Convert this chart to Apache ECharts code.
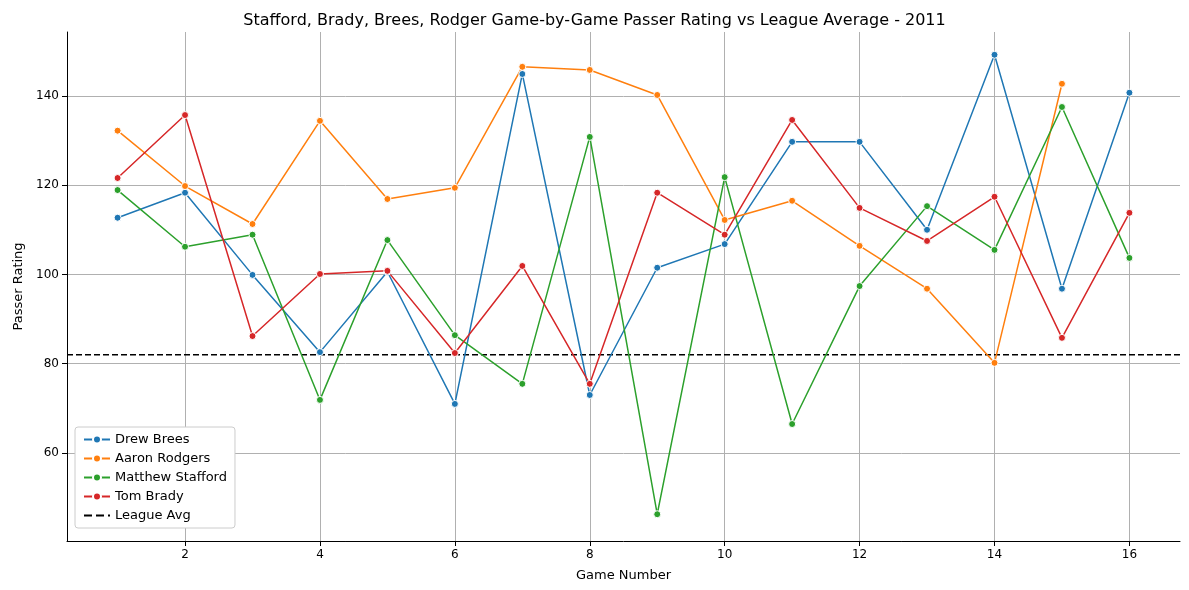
<!DOCTYPE html>
<html><head><meta charset="utf-8">
<script src="https://cdn.jsdelivr.net/npm/echarts@6/dist/echarts.min.js"></script>
<style>html,body{margin:0;background:#fff}#c{width:1189px;height:590px}</style>
</head><body><div id="c"></div>
<script>
var games = [1,2,3,4,5,6,7,8,9,10,11,12,13,14,15,16];
var brees = [112.7,118.3,99.9,82.6,100.6,71,144.9,73,101.5,106.8,129.7,129.7,110,149.2,96.8,140.7];
var rodgers = [132.2,119.8,111.3,134.4,116.9,119.4,146.5,145.8,140.2,112.2,116.5,106.4,96.8,80.2,142.7];
var stafford = [118.9,106.2,108.9,71.9,107.7,86.4,75.5,130.8,46.3,121.8,66.5,97.4,115.3,105.5,137.5,103.7];
var brady = [121.6,135.7,86.2,100.1,100.8,82.4,101.9,75.5,118.3,108.9,134.6,114.9,107.5,117.4,85.8,113.8];
var leagueAvg = 82;
var xTicks = [2,4,6,8,10,12,14,16];
var yTicks = [60,80,100,120,140];

function pairs(vals){ return vals.map(function(v,i){ return [games[i], v]; }); }
function player(name, vals, color){
  return {name:name, type:'line', data:pairs(vals), symbol:'circle', symbolSize:7,
    itemStyle:{color:color, borderColor:'#fff', borderWidth:1},
    lineStyle:{color:color, width:1.5}, z:3};
}
var lbl = {fontFamily:'DejaVu Sans', fontSize:12, color:'#000'};
var chart = echarts.init(document.getElementById('c'));
chart.setOption({
  animation:false,
  title:{text:'Stafford, Brady, Brees, Rodger Game-by-Game Passer Rating vs League Average - 2011',
    left:'center', top:8, textStyle:{fontFamily:'DejaVu Sans', fontSize:16, fontWeight:'normal', color:'#000'}},
  grid:{left:67, right:9, top:32, bottom:49, containLabel:false, outerBoundsMode:'none'},
  legend:{orient:'vertical', left:75, bottom:62, itemGap:6, itemWidth:26, itemHeight:10,
    borderColor:'#ccc', borderWidth:1, borderRadius:3, padding:[6,8], backgroundColor:'#fff',
    textStyle:{fontFamily:'DejaVu Sans', fontSize:13, color:'#000'},
    data:['Drew Brees','Aaron Rodgers','Matthew Stafford','Tom Brady',{name:'League Avg', itemStyle:{opacity:0}}]},
  xAxis:{type:'value', min:0.25, max:16.75, name:'Game Number', nameLocation:'middle', nameGap:28,
    nameTextStyle:{fontFamily:'DejaVu Sans', fontSize:13, color:'#000'},
    axisLine:{lineStyle:{color:'#000'}}, axisTick:{show:true, customValues:xTicks, lineStyle:{color:'#000'}},
    axisLabel:Object.assign({customValues:xTicks}, lbl),
    splitLine:{show:true, lineStyle:{color:'#b0b0b0'}}},
  yAxis:{type:'value', min:40.3, max:154.3, name:'Passer Rating', nameLocation:'middle', nameGap:40,
    nameTextStyle:{fontFamily:'DejaVu Sans', fontSize:13, color:'#000'},
    axisLine:{show:true, lineStyle:{color:'#000'}}, axisTick:{show:true, customValues:yTicks, lineStyle:{color:'#000'}},
    axisLabel:Object.assign({customValues:yTicks}, lbl),
    splitLine:{show:true, lineStyle:{color:'#b0b0b0'}}},
  series:[
    player('Drew Brees', brees, '#1f77b4'),
    player('Aaron Rodgers', rodgers, '#ff7f0e'),
    player('Matthew Stafford', stafford, '#2ca02c'),
    player('Tom Brady', brady, '#d62728'),
    {name:'League Avg', type:'line', data:[[0.25,leagueAvg],[16.75,leagueAvg]], symbol:'none',
      itemStyle:{color:'#000'}, lineStyle:{color:'#000', type:'dashed', width:1.5}, z:2}
  ]
});
</script></body></html>
